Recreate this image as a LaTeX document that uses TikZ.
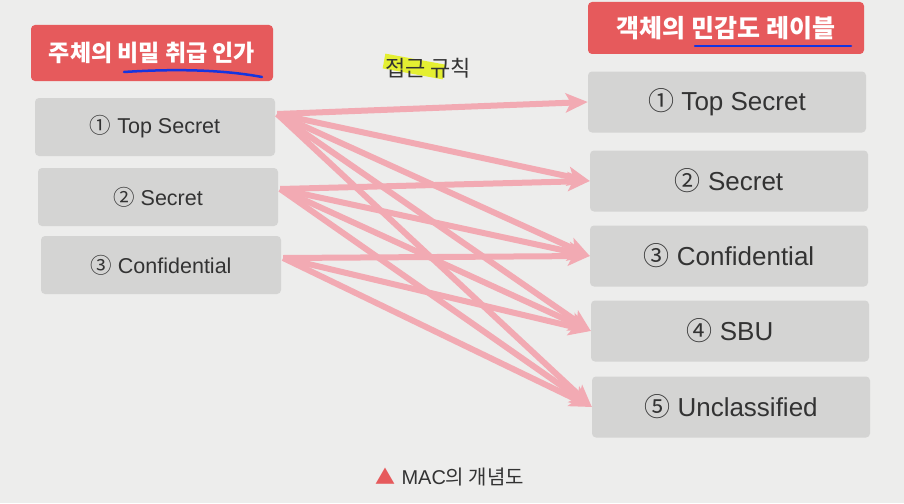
\documentclass[tikz,border=0pt]{standalone}
\usepackage{fontspec}
\setmainfont{Liberation Sans}
\newfontfamily\kr{Noto Sans CJK KR}
\usetikzlibrary{arrows.meta, calc, positioning}
\definecolor{hred}{HTML}{E65A5C}
\definecolor{bgray}{HTML}{D4D4D3}
\definecolor{apink}{HTML}{F2AAB3}
\definecolor{paper}{HTML}{EDEDEC}
\definecolor{pen}{HTML}{1535E0}
\definecolor{hilite}{HTML}{E4F01E}

\begin{document}
\begin{tikzpicture}[x=1pt,y=-1pt,
    head/.style={fill=hred, rounded corners=4pt, text=white, minimum height=56pt, font=\kr\bfseries\fontsize{23}{23}\selectfont},
    lbox/.style={fill=bgray, rounded corners=4pt, minimum width=240pt, minimum height=58pt, text=black!80, font=\fontsize{21.5}{22}\selectfont},
    rbox/.style={fill=bgray, rounded corners=4pt, minimum width=278pt, minimum height=61pt, text=black!80, font=\fontsize{26}{26}\selectfont},
    rule/.style={draw=apink, line width=6pt, -{Stealth[length=22pt,width=19pt,inset=5pt]}},
    penline/.style={draw=pen, line width=2.5pt, line cap=round}]
        \useasboundingbox (0,0) rectangle (904,503);
        \fill[paper] (0,0) rectangle (904,503);

        \node[head, minimum width=242pt] (subj) at (152,53) {주체의 비밀 취급 인가};
        \node[head, minimum width=276pt, minimum height=52pt, font=\kr\bfseries\fontsize{25}{25}\selectfont] (obj) at (726,28) {객체의 민감도 레이블};

        \node[lbox] (ts) at (155,127) {{\kr ①} Top Secret};
        \node[lbox] (se) at (158,197) {{\kr ②} Secret};
        \node[lbox] (co) at (161,265) {{\kr ③} Confidential};

        \node[rbox] (r1) at (727,102) {{\kr ①} Top Secret};
        \node[rbox] (r2) at (729,181) {{\kr ②} Secret};
        \node[rbox] (r3) at (729,256) {{\kr ③} Confidential};
        \node[rbox] (r4) at (730,331) {{\kr ④} SBU};
        \node[rbox] (r5) at (731,407) {{\kr ⑤} Unclassified};

        \coordinate (s1) at ($(ts.east)+(2,-13)$);
        \coordinate (s2) at ($(se.east)+(2,-8)$);
        \coordinate (s3) at ($(co.east)+(2,-7)$);
        \foreach \s/\t in {s1/r1, s1/r2, s1/r3, s1/r4, s1/r5, s2/r2, s2/r3, s2/r4, s2/r5, s3/r3, s3/r4, s3/r5}
            \draw[rule] (\s) -- (\t.west);

        \draw[hilite, line width=15pt, opacity=0.9] (384,61) -- (444,72);
        \node[font=\kr\fontsize{22}{22}\selectfont, text=black!80] (rulelbl) at (428,68) {접근 규칙};

        \draw[penline] (124,72) .. controls (185,68) and (230,71) .. (262,77);
        \draw[penline] (695,46) -- (851,46);

        \node[font=\fontsize{20}{20}\selectfont, text=black!80] (cap) at (450,477) {{\kr\textcolor{hred}{▲}} MAC{\kr 의 개념도}};
\end{tikzpicture}
\end{document}
